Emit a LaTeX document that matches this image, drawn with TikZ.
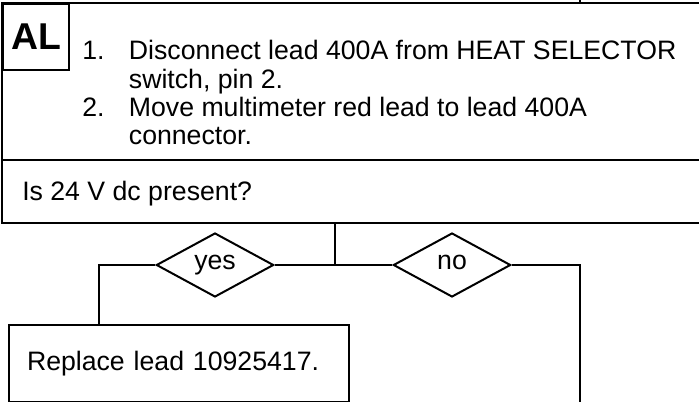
\documentclass[tikz,border=0pt]{standalone}
\usepackage{fontspec}
\setmainfont{Liberation Sans}
\usetikzlibrary{positioning, shapes.geometric}
\tikzset{
  frame/.style={draw=black, line width=1.5pt},
  labelbox/.style={draw=black, line width=1.5pt, inner sep=0pt, minimum size=49.5pt, font=\fontsize{28}{32}\selectfont\bfseries},
  plaintext/.style={inner sep=0pt, anchor=base west, font=\fontsize{20}{21.2}\selectfont},
  choice/.style={diamond, draw=black, line width=1.5pt, inner sep=0pt, minimum width=88pt, minimum height=48pt, text height=10pt, text depth=2.5pt, font=\fontsize{20}{21}\selectfont},
  actionbox/.style={draw=black, line width=1.5pt, anchor=north west, minimum width=255pt, minimum height=57.75pt, inner xsep=13.5pt, text width=228pt, align=left, font=\fontsize{20}{21.2}\selectfont},
  link/.style={draw=black, line width=1.5pt}
}

\begin{document}
\begin{tikzpicture}[x=0.75pt, y=0.75pt]
\useasboundingbox (0,0) rectangle (699,-402);
% step frame, runs off to the right
\draw[frame] (2,-3) rectangle (720,-223);
\draw[frame] (2,-160) -- (720,-160);
\node[labelbox, anchor=north west] (al) at (2,-3) {AL};
\node[plaintext] (steps) at (82,-60) {%
\begin{tabular}[t]{@{}p{35pt}@{}l@{}}
1. & Disconnect lead 400A from HEAT SELECTOR\\
   & switch, pin 2.\\
2. & Move multimeter red lead to lead 400A\\
   & connector.
\end{tabular}};
\node[plaintext] (question) at (22,-201) {Is 24 V dc present?};
% branches
\coordinate (topin) at (580,0);
\coordinate (topend) at (580,-3);
\coordinate (qbot) at (335,-223);
\coordinate (split) at (335,-265);
\node[choice] (yes) at (215,-265) {yes};
\node[choice] (no) at (452,-265) {no};
\node[actionbox] (replace) at (8,-324) {Replace lead 10925417.};
\coordinate (yesdrop) at (99,-324);
\coordinate (nodrop) at (580,-402);
\draw[link] (topin) -- (topend);
\draw[link] (qbot) -- (split);
\draw[link] (split) -- (yes.east);
\draw[link] (split) -- (no.west);
\draw[link] (yes.west) -| (yesdrop);
\draw[link] (no.east) -| (nodrop);
\end{tikzpicture}
\end{document}
